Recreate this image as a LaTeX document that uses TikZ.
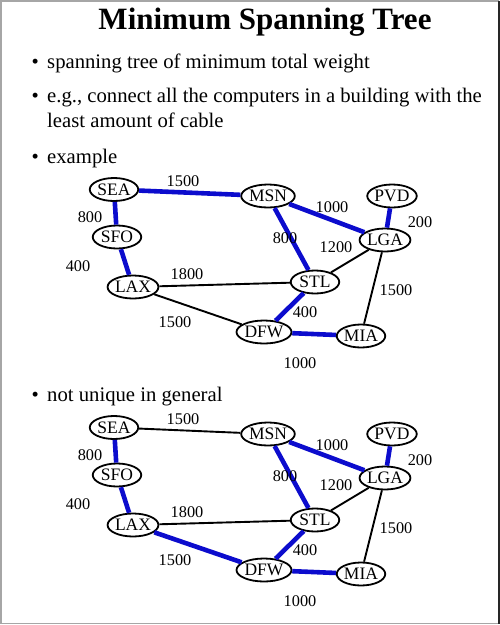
\documentclass[tikz,border=0pt]{standalone}
\usepackage{fontspec}
\setmainfont{Liberation Serif}
\usetikzlibrary{shapes.geometric}
\definecolor{mstblue}{RGB}{12,12,205}
\tikzset{
  city/.style={ellipse,draw=black,line width=1.8pt,fill=white,inner sep=0pt,
    minimum width=48.5pt,minimum height=23pt,font=\fontsize{17.5}{17.5}\selectfont},
  wlabel/.style={inner sep=0pt,font=\fontsize{16.3}{16}\selectfont},
  tree/.style={draw=mstblue,line width=4.6pt},
  plain/.style={draw=black,line width=1.9pt},
  bullettext/.style={anchor=base west,inner sep=0pt,font=\fontsize{20.7}{24}\selectfont},
}
\begin{document}
\begin{tikzpicture}[x=1pt,y=-1pt]
\useasboundingbox (0,0) rectangle (500,625);
\draw[gray!70,line width=1.5pt] (0.75,0.75) rectangle (498.5,623.5);
\draw[black!85,line width=2pt] (498.5,0.75) -- (498.5,623.5);
\node[anchor=base,inner sep=0pt,font=\fontsize{31}{36}\selectfont\bfseries] (title) at (265,29) {Minimum Spanning Tree};
\node[bullettext] (b1) at (31.5,68) {\textbullet};
\node[bullettext] (t1) at (47,68) {spanning tree of minimum total weight};
\node[bullettext] (b2) at (31.5,102) {\textbullet};
\node[bullettext] (t2) at (47,102) {e.g., connect all the computers in a building with the};
\node[bullettext] (t2b) at (47,127) {least amount of cable};
\node[bullettext] (b3) at (31.5,163) {\textbullet};
\node[bullettext] (t3) at (47,163) {example};
\node[bullettext] (b4) at (31.5,401) {\textbullet};
\node[bullettext] (t4) at (47,401) {not unique in general};

% ---------- first graph ----------
\begin{scope}
\node[city] (aSEA) at (114,189.5) {SEA};
\node[city] (aMSN) at (268,196) {MSN};
\node[city] (aPVD) at (392,196) {PVD};
\node[city] (aSFO) at (117,237) {SFO};
\node[city] (aLGA) at (385,240) {LGA};
\node[city] (aLAX) at (133,287) {LAX};
\node[city] (aSTL) at (315,282) {STL};
\node[city] (aDFW) at (264,332) {DFW};
\node[city] (aMIA) at (361,336) {MIA};
\path[tree] (aSEA) -- (aMSN);
\path[tree] (aSEA) -- (aSFO);
\path[tree] (aMSN) -- (aLGA);
\path[tree] (aMSN) -- (aSTL);
\path[tree] (aPVD) -- (aLGA);
\path[tree] (aSFO) -- (aLAX);
\path[tree] (aSTL) -- (aDFW);
\path[tree] (aDFW) -- (aMIA);
\path[plain] (aLAX) -- (aSTL);
\path[plain] (aLAX) -- (aDFW);
\path[plain] (aSTL) -- (aLGA);
\path[plain] (aLGA) -- (aMIA);
\node[wlabel] (al1) at (183,181) {1500};
\node[wlabel] (al2) at (90,217) {800};
\node[wlabel] (al3) at (332,207) {1000};
\node[wlabel] (al4) at (420,222) {200};
\node[wlabel] (al5) at (285,238) {800};
\node[wlabel] (al6) at (336,247) {1200};
\node[wlabel] (al7) at (78,266) {400};
\node[wlabel] (al8) at (187,274) {1800};
\node[wlabel] (al9) at (396,290) {1500};
\node[wlabel] (al10) at (305,312) {400};
\node[wlabel] (al11) at (175,322) {1500};
\node[wlabel] (al12) at (300,363) {1000};
\end{scope}

% ---------- second graph ----------
\begin{scope}[yshift=-238pt]
\node[city] (bSEA) at (114,189.5) {SEA};
\node[city] (bMSN) at (268,196) {MSN};
\node[city] (bPVD) at (392,196) {PVD};
\node[city] (bSFO) at (117,237) {SFO};
\node[city] (bLGA) at (385,240) {LGA};
\node[city] (bLAX) at (133,287) {LAX};
\node[city] (bSTL) at (315,282) {STL};
\node[city] (bDFW) at (264,332) {DFW};
\node[city] (bMIA) at (361,336) {MIA};
\path[plain] (bSEA) -- (bMSN);
\path[tree] (bSEA) -- (bSFO);
\path[tree] (bMSN) -- (bLGA);
\path[tree] (bMSN) -- (bSTL);
\path[tree] (bPVD) -- (bLGA);
\path[tree] (bSFO) -- (bLAX);
\path[tree] (bSTL) -- (bDFW);
\path[tree] (bDFW) -- (bMIA);
\path[plain] (bLAX) -- (bSTL);
\path[tree] (bLAX) -- (bDFW);
\path[plain] (bSTL) -- (bLGA);
\path[plain] (bLGA) -- (bMIA);
\node[wlabel] (bl1) at (183,181) {1500};
\node[wlabel] (bl2) at (90,217) {800};
\node[wlabel] (bl3) at (332,207) {1000};
\node[wlabel] (bl4) at (420,222) {200};
\node[wlabel] (bl5) at (285,238) {800};
\node[wlabel] (bl6) at (336,247) {1200};
\node[wlabel] (bl7) at (78,266) {400};
\node[wlabel] (bl8) at (187,274) {1800};
\node[wlabel] (bl9) at (396,290) {1500};
\node[wlabel] (bl10) at (305,312) {400};
\node[wlabel] (bl11) at (175,322) {1500};
\node[wlabel] (bl12) at (300,363) {1000};
\end{scope}
\end{tikzpicture}
\end{document}
